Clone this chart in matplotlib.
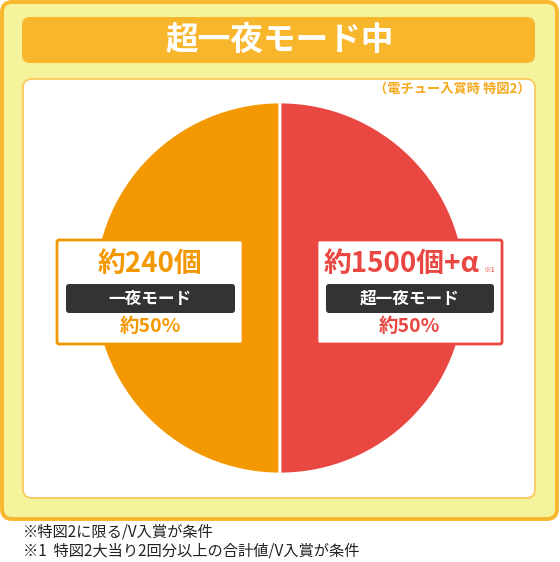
import matplotlib
matplotlib.use("Agg")
import matplotlib.pyplot as plt
from matplotlib.patches import FancyBboxPatch

plt.rcParams['font.family'] = ['Noto Sans CJK JP', 'DejaVu Sans']

# data
modes = ['一夜モード', '超一夜モード']
shares = [50, 50]
payouts = ['約240個', '約1500個+α']
share_labels = ['約50%', '約50%']
title = '超一夜モード中'
subtitle = '（電チュー入賞時 特図2）'
notes = ['※特図2に限る/V入賞が条件',
         '※1  特図2大当り2回分以上の合計値/V入賞が条件']

ORANGE = '#F39800'
RED = '#E94741'
GOLD = '#F8B62D'
PALE = '#F4F29B'
DARK = '#333333'

W, H = 560, 562
fig = plt.figure(figsize=(W / 100, H / 100), dpi=100)
ax = fig.add_axes([0, 0, 1, 1])
ax.set_xlim(0, W)
ax.set_ylim(H, 0)
ax.axis('off')


def rbox(x0, y0, x1, y1, pad, **kw):
    p = FancyBboxPatch((x0, y0), x1 - x0, y1 - y0,
                       boxstyle="round,pad=0,rounding_size=%g" % pad, **kw)
    ax.add_patch(p)
    return p


# outer frame
rbox(2, 2, 557, 519, 10, facecolor=PALE, edgecolor=GOLD, lw=2.8, zorder=1)
# title bar
rbox(22, 17, 535, 63, 8, facecolor=GOLD, edgecolor='none', zorder=2)
ax.text(280, 41, title, color='white', fontsize=23.5, fontweight='bold',
        ha='center', va='center', zorder=3)
# white panel
rbox(23, 79, 535, 498, 9, facecolor='white', edgecolor='#F9C556', lw=1.2, zorder=2)
ax.text(530, 89, subtitle, color='#F5A91E', fontsize=9.5, fontweight='bold',
        ha='right', va='center', zorder=3)

# pie
wedges, _ = ax.pie(shares, colors=[ORANGE, RED], startangle=90, counterclock=True,
                   center=(280, 288), radius=186, frame=True,
                   wedgeprops=dict(edgecolor='white', linewidth=2))
for w in wedges:
    w.set_zorder(3)
ax.set_xlim(0, W)
ax.set_ylim(H, 0)
ax.set_aspect('auto')
ax.axis('off')

# label boxes
boxes = [(57, 240, 243, 344), (317, 240, 502, 344)]
cols = [ORANGE, RED]
for i in range(2):
    x0, y0, x1, y1 = boxes[i]
    c = cols[i]
    rbox(x0, y0, x1, y1, 2, facecolor='white', edgecolor=c, lw=2, zorder=4)
    cx = (x0 + x1) / 2
    if i == 0:
        ax.text(cx, 264, payouts[i], color=c, fontsize=20, fontweight='bold',
                ha='center', va='center', zorder=5)
    else:
        ax.text(cx - 8, 264, payouts[i], color=c, fontsize=20, fontweight='bold',
                ha='center', va='center', zorder=5)
        ax.text(484, 270, '※1', color=c, fontsize=5.5, ha='left', va='center', zorder=5)
    rbox(x0 + 9, 284, x1 - 8, 313, 3, facecolor=DARK, edgecolor='none', zorder=5)
    ax.text(cx, 298.5, modes[i], color='white', fontsize=12, fontweight='bold',
            ha='center', va='center', zorder=6)
    ax.text(cx, 327, share_labels[i], color=c, fontsize=14, fontweight='bold',
            ha='center', va='center', zorder=5)

# footnotes
for j, t in enumerate(notes):
    ax.text(23, 532 + j * 18.5, t, color='#222222', fontsize=11,
            ha='left', va='center')

fig.savefig('out.png', dpi=100)
